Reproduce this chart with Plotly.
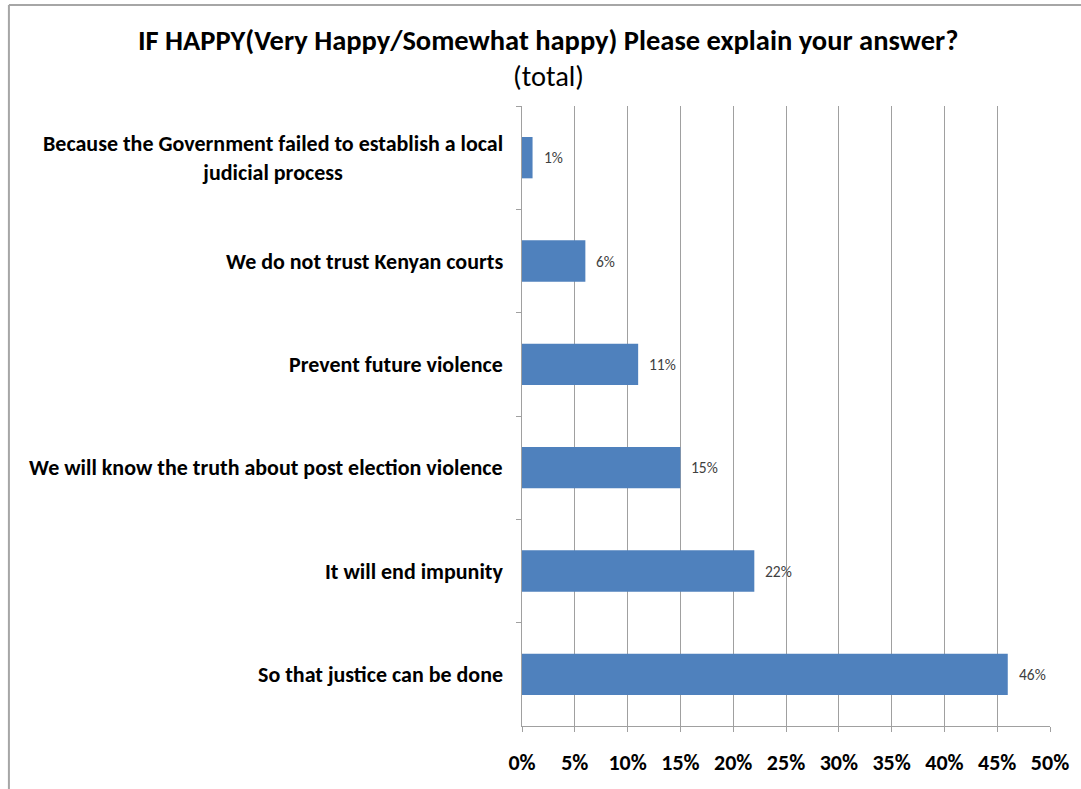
import plotly.graph_objects as go

categories = [
    "Because the Government failed to establish a local<br>judicial process",
    "We do not trust Kenyan courts",
    "Prevent future violence",
    "We will know the truth about post election violence",
    "It will end impunity",
    "So that justice can be done",
]
values = [0.01, 0.06, 0.11, 0.15, 0.22, 0.46]
value_labels = ["1%", "6%", "11%", "15%", "22%", "46%"]
x_ticks = [0, 0.05, 0.10, 0.15, 0.20, 0.25, 0.30, 0.35, 0.40, 0.45, 0.50]

FONT = "Carlito, 'Liberation Sans Narrow', 'Open Sans', sans-serif"
W, H = 1081, 789
ML, MR, MT, MB = 522, 28, 106, 63
PW, PH = W - ML - MR, H - MT - MB


def px_x(p):
    return (p - ML) / PW


def px_y(p):
    return (H - MB - p) / PH


fig = go.Figure()
fig.add_trace(go.Bar(
    y=categories,
    x=values,
    orientation="h",
    marker=dict(color="#4F81BD", line=dict(width=0)),
    width=0.4,
    hoverinfo="x+y",
))

annotations = []
for c in categories:
    annotations.append(dict(
        x=0, xref="paper", y=c, yref="y", text=c, showarrow=False,
        xanchor="right", align="center", xshift=-17,
        font=dict(family=FONT, size=22, color="#000000", weight="bold"),
    ))
for c, v, t in zip(categories, values, value_labels):
    annotations.append(dict(
        x=v, xref="x", y=c, yref="y", text=t, showarrow=False,
        xanchor="left", xshift=9,
        font=dict(family=FONT, size=15.5, color="#404040"),
    ))
annotations.append(dict(
    x=px_x(548), xref="paper", y=px_y(40), yref="paper",
    text="<b>IF HAPPY(Very Happy/Somewhat happy) Please explain your answer?</b>",
    showarrow=False, xanchor="center", yanchor="middle",
    font=dict(family=FONT, size=28.5, color="#000000"),
))
annotations.append(dict(
    x=px_x(549), xref="paper", y=px_y(76), yref="paper",
    text="(total)", showarrow=False, xanchor="center", yanchor="middle",
    font=dict(family=FONT, size=28.5, color="#000000"),
))

shapes = [
    dict(type="line", xref="paper", yref="paper",
         x0=px_x(6), x1=px_x(W + 5), y0=px_y(5), y1=px_y(5),
         line=dict(color="#A6A6A6", width=2)),
    dict(type="line", xref="paper", yref="paper",
         x0=px_x(6), x1=px_x(6), y0=px_y(5), y1=px_y(H + 5),
         line=dict(color="#A6A6A6", width=2)),
]

fig.update_layout(
    width=W, height=H,
    margin=dict(l=ML, r=MR, t=MT, b=MB),
    paper_bgcolor="white", plot_bgcolor="white",
    showlegend=False,
    annotations=annotations,
    shapes=shapes,
    xaxis=dict(
        range=[0, 0.5], tickvals=x_ticks, tickformat=".0%",
        showgrid=True, gridcolor="#A0A0A0", gridwidth=1,
        showline=True, linecolor="#A0A0A0", linewidth=1,
        ticks="outside", ticklen=5, tickcolor="#A0A0A0",
        tickfont=dict(family=FONT, size=22, color="#000000", weight="bold"),
        zeroline=False, fixedrange=True, ticklabelstandoff=12,
    ),
    yaxis=dict(
        autorange="reversed", showticklabels=False,
        tickson="boundaries", ticks="outside", ticklen=5, tickcolor="#A0A0A0",
        showline=True, linecolor="#A0A0A0", linewidth=1,
        showgrid=False, fixedrange=True,
    ),
)

fig.write_html(
    "out.html",
    config={"displayModeBar": False},
    post_script="document.body.style.margin='0';document.body.style.overflow='hidden';",
)
